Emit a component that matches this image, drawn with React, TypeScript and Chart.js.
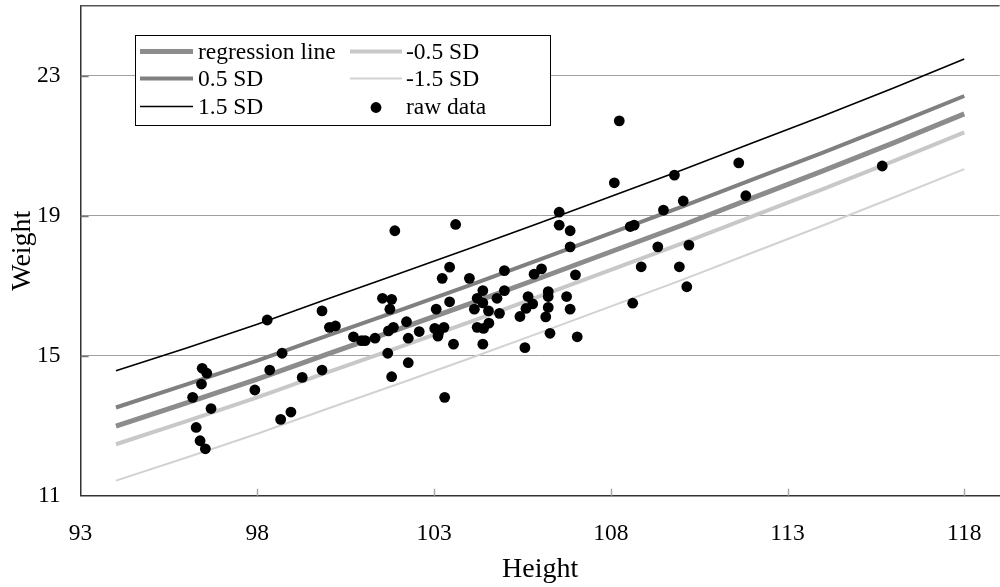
import React, { useEffect, useRef } from "react";
import { Chart, registerables } from "chart.js";

Chart.register(...registerables);

// ---------- data ----------
const curveHeights = [94, 96, 98, 100, 102, 104, 106, 108, 110, 112, 114, 116, 118];
const regressionLine = [12.99, 13.65, 14.33, 15.05, 15.76, 16.48, 17.22, 17.97, 18.72, 19.5, 20.28, 21.08, 21.91];
const plus05SD = [13.52, 14.18, 14.86, 15.58, 16.29, 17.01, 17.75, 18.5, 19.25, 20.03, 20.8, 21.6, 22.42];
const plus15SD = [14.57, 15.22, 15.9, 16.63, 17.34, 18.06, 18.8, 19.55, 20.3, 21.08, 21.85, 22.65, 23.48];
const minus05SD = [12.47, 13.13, 13.81, 14.53, 15.24, 15.96, 16.7, 17.45, 18.2, 18.98, 19.76, 20.56, 21.38];
const minus15SD = [11.43, 12.09, 12.77, 13.49, 14.2, 14.92, 15.66, 16.41, 17.16, 17.94, 18.72, 19.52, 20.33];

const rawHeight = [
  96.44, 96.57, 96.42, 96.17, 96.69, 96.27, 96.38, 96.53,
  97.93, 98.28, 98.35, 98.7, 98.66, 98.95, 99.27, 99.83, 99.83, 100.04, 100.21, 100.72,
  100.95, 101.05, 101.33, 101.54, 101.8, 101.75, 101.71, 101.85, 101.69, 101.8,
  101.89, 102.22, 102.27, 102.27, 102.58, 103.06, 103.02, 103.13, 103.28, 103.11,
  103.23, 103.44, 103.44, 103.3, 103.55, 103.61, 104.0, 104.14, 104.22, 104.38,
  104.38, 104.54, 104.22, 104.4, 104.55, 104.38, 104.78, 104.85, 104.99, 104.99,
  105.43, 105.6, 105.66, 105.79, 105.57, 105.83, 106.04, 106.23, 106.23, 106.23,
  106.16, 106.28, 106.75, 106.85, 107.05, 107.0, 106.54, 106.54, 106.85, 106.85,
  108.1, 108.24, 108.55, 108.66, 108.62, 108.86, 109.33, 109.49, 109.8, 109.94,
  110.05, 110.15, 110.21, 111.62, 111.82, 115.68,
];
const rawWeight = [
  14.64, 14.5, 14.19, 13.81, 13.49, 12.95, 12.57, 12.34,
  14.02, 16.02, 14.59, 15.07, 13.18, 13.39, 14.38, 14.59, 16.28, 15.81, 15.85, 15.54,
  15.43, 15.43, 15.5, 16.64, 16.61, 16.33, 15.71, 15.81, 15.07, 14.4,
  18.57, 15.97, 15.5, 14.8, 15.69, 16.33, 15.78, 15.66, 15.81, 15.56,
  17.21, 17.53, 16.54, 13.81, 15.33, 18.75, 17.21, 16.33, 16.64, 16.86,
  16.51, 16.28, 15.81, 15.78, 15.93, 15.33, 16.64, 16.21, 17.43, 16.86,
  16.12, 16.35, 16.69, 16.48, 15.23, 17.33, 17.48, 16.83, 16.69, 16.38,
  16.11, 15.64, 16.69, 16.33, 15.54, 17.31, 19.1, 18.73, 18.57, 18.11,
  19.94, 21.71, 18.69, 18.73, 16.5, 17.54, 18.11, 19.16, 20.16, 17.54,
  19.42, 16.97, 18.16, 20.51, 19.57, 20.42,
];

const xTickValues = [93, 98, 103, 108, 113, 118];
const yTickValues = [11, 15, 19, 23];

// legend: column-major, 3 rows x 2 columns
const legendOrder = ["regression line", "0.5 SD", "1.5 SD", "-0.5 SD", "-1.5 SD", "raw data"];

const FONT = "'Liberation Serif', 'Times New Roman', serif";

const toPoints = (xs: number[], ys: number[]) => xs.map((x, i) => ({ x, y: ys[i] }));

const framePlugin = {
  id: "frame",
  afterDraw(chart: any) {
    const { ctx, chartArea, scales } = chart;
    ctx.save();
    ctx.strokeStyle = "#555";
    ctx.lineWidth = 1.5;
    ctx.beginPath();
    ctx.moveTo(chartArea.left, chartArea.top);
    ctx.lineTo(chartArea.right, chartArea.top);
    ctx.stroke();
    ctx.strokeStyle = "#aaa";
    ctx.lineWidth = 1.5;
    xTickValues.forEach((v) => {
      if (v === xTickValues[0]) return;
      const px = Math.round(scales.x.getPixelForValue(v)) + 0.5;
      ctx.beginPath();
      ctx.moveTo(px, chartArea.bottom);
      ctx.lineTo(px, chartArea.bottom - 7);
      ctx.stroke();
    });
    ctx.strokeStyle = "#777";
    yTickValues.forEach((v) => {
      if (v === yTickValues[0]) return;
      const py = Math.round(scales.y.getPixelForValue(v)) + 0.5;
      ctx.beginPath();
      ctx.moveTo(chartArea.left, py);
      ctx.lineTo(chartArea.left + 8, py);
      ctx.stroke();
    });
    ctx.restore();
  },
};

const boxLegendPlugin = {
  id: "boxLegend",
  afterDraw(chart: any) {
    const { ctx } = chart;
    const box = { x: 135.5, y: 35.5, w: 415, h: 90 };
    const rowsY = [52.5, 79.5, 107.5];
    const cols = [
      { x1: 140, x2: 193, tx: 198 },
      { x1: 350, x2: 402, tx: 406 },
    ];
    ctx.save();
    ctx.fillStyle = "#fff";
    ctx.fillRect(box.x, box.y, box.w, box.h);
    ctx.strokeStyle = "#000";
    ctx.lineWidth = 1;
    ctx.strokeRect(box.x, box.y, box.w, box.h);
    ctx.font = `23.5px ${FONT}`;
    ctx.textBaseline = "middle";
    ctx.textAlign = "left";
    legendOrder.forEach((label, i) => {
      const ds = chart.data.datasets.find((d: any) => d.label === label);
      if (!ds) return;
      const col = cols[Math.floor(i / 3)];
      const y = rowsY[i % 3];
      if (ds.showLine) {
        ctx.strokeStyle = ds.borderColor;
        ctx.lineWidth = ds.borderWidth;
        ctx.lineCap = "butt";
        ctx.beginPath();
        ctx.moveTo(col.x1, y - 1);
        ctx.lineTo(col.x2, y - 1);
        ctx.stroke();
      } else {
        ctx.fillStyle = ds.backgroundColor;
        ctx.beginPath();
        ctx.arc((col.x1 + col.x2) / 2, y, ds.pointRadius, 0, Math.PI * 2);
        ctx.fill();
      }
      ctx.fillStyle = "#000";
      ctx.fillText(label, col.tx, y);
    });
    ctx.restore();
  },
};

export default function App() {
  const canvasRef = useRef<HTMLCanvasElement | null>(null);

  useEffect(() => {
    if (!canvasRef.current) return;
    const lineDs = (label: string, data: number[], color: string, width: number) => ({
      type: "scatter" as const,
      label,
      data: toPoints(curveHeights, data),
      showLine: true,
      borderColor: color,
      backgroundColor: color,
      borderWidth: width,
      pointRadius: 0,
      tension: 0,
      order: 2,
    });
    const chart = new Chart(canvasRef.current, {
      type: "scatter",
      data: {
        datasets: [
          {
            label: "raw data",
            data: toPoints(rawHeight, rawWeight),
            showLine: false,
            backgroundColor: "#000",
            borderColor: "#000",
            borderWidth: 0,
            pointRadius: 5.4,
            order: 0,
          } as any,
          lineDs("1.5 SD", plus15SD, "#000000", 1.6),
          lineDs("0.5 SD", plus05SD, "#808080", 4),
          lineDs("regression line", regressionLine, "#8c8c8c", 5),
          lineDs("-0.5 SD", minus05SD, "#c8c8c8", 4),
          lineDs("-1.5 SD", minus15SD, "#d2d2d2", 2),
        ],
      },
      options: {
        animation: false,
        responsive: false,
        devicePixelRatio: 1,
        layout: { padding: { left: 0, right: 0, top: 5.7, bottom: 0 } },
        plugins: {
          legend: { display: false },
          tooltip: { enabled: false },
          title: { display: false },
        },
        scales: {
          x: {
            type: "linear",
            min: 93,
            max: 119,
            afterBuildTicks: (s: any) => {
              s.ticks = xTickValues.map((v) => ({ value: v }));
            },
            afterFit: (s: any) => {
              s.height = 91.3;
              s.paddingLeft = 0;
              s.paddingRight = 0;
            },
            grid: { display: false, drawTicks: false },
            border: { display: true, color: "#333", width: 1.5 },
            ticks: {
              color: "#000",
              font: { family: FONT, size: 23.5 },
              padding: 24,
              maxRotation: 0,
              autoSkip: false,
              callback: (v: any) => String(v),
            },
            title: {
              display: true,
              text: "Height",
              color: "#000",
              font: { family: FONT, size: 28 },
              padding: { top: 0, bottom: 1 },
            },
          },
          y: {
            type: "linear",
            min: 11,
            max: 25,
            afterBuildTicks: (s: any) => {
              s.ticks = yTickValues.map((v) => ({ value: v }));
            },
            afterFit: (s: any) => {
              s.width = 80.6;
              s.paddingTop = 0;
              s.paddingBottom = 0;
            },
            grid: {
              drawTicks: false,
              lineWidth: 1,
              color: (c: any) => (c.tick && c.tick.value === yTickValues[0] ? "rgba(0,0,0,0)" : "#a0a0a0"),
            },
            border: { display: true, color: "#333", width: 1.5 },
            ticks: {
              color: "#000",
              font: { family: FONT, size: 23.5 },
              padding: 20,
              autoSkip: false,
              callback: (v: any) => String(v),
            },
            title: {
              display: true,
              text: "Weight",
              color: "#000",
              font: { family: FONT, size: 28 },
              padding: { top: 5.5, bottom: 0 },
            },
          },
        },
      } as any,
      plugins: [framePlugin, boxLegendPlugin],
    });
    return () => chart.destroy();
  }, []);

  return (
    <div
      style={{
        position: "fixed",
        left: 0,
        top: 0,
        width: 1000,
        height: 587,
        overflow: "hidden",
        background: "#fff",
      }}
    >
      <canvas ref={canvasRef} width={1005} height={587} style={{ display: "block", width: 1005, height: 587 }} />
    </div>
  );
}
